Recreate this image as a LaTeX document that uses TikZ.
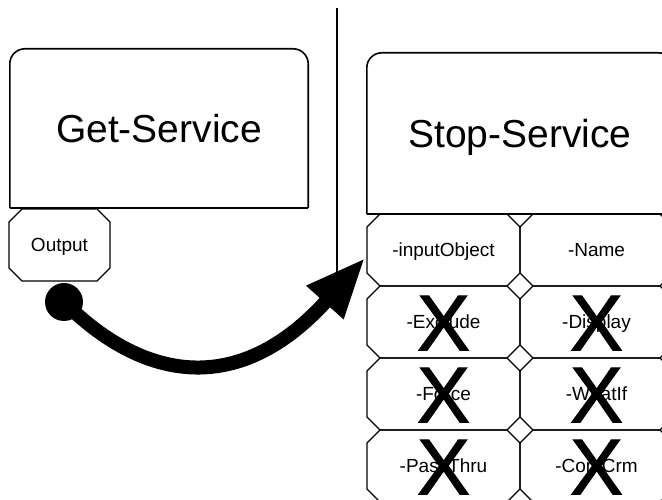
\documentclass[tikz,border=0pt]{standalone}
\usepackage{fontspec}
\setmainfont{Liberation Sans}
\newfontfamily\crossfont[FakeBold=1.6]{Liberation Sans}
\usetikzlibrary{arrows.meta}
\newcommand{\octcell}[6]{%
  \draw[cellline] (#2+13,#3) -- (#4-13,#3) -- (#4,#3+13) -- (#4,#5-13) -- (#4-13,#5) -- (#2+13,#5) -- (#2,#5-13) -- (#2,#3+13) -- cycle;
  \node[celltext] (#1) at ({(#2+#4)/2},{(#3+#5)/2}) {#6};
}
\begin{document}
\begin{tikzpicture}[x=1pt,y=-1pt,
  boxline/.style={line width=1.6pt},
  cellline/.style={line width=1.2pt, line join=miter},
  title/.style={font=\fontsize{39}{39}\selectfont, inner sep=0pt, text height=28pt, text depth=0pt},
  celltext/.style={font=\fontsize{19}{19}\selectfont, inner sep=0pt, text height=13.7pt, text depth=0pt},
  cross/.style={font=\fontsize{79}{79}\crossfont, inner sep=0pt, text height=56.5pt, text depth=0pt},
  flow/.style={line width=14pt, -{Triangle[length=60pt,width=46pt]}}]
\useasboundingbox (0,0) rectangle (662,500);

% Get-Service
\node[title, minimum width=298pt, minimum height=159pt] (getsvc) at (159,128.5) {Get-Service};
\draw[boxline, rounded corners=15pt] (getsvc.south west) -- (getsvc.north west) -- (getsvc.north east) -- (getsvc.south east);
\draw[boxline] (getsvc.south west) -- (getsvc.south east);

\octcell{output}{9}{209}{110}{281}{Output}

% separator
\draw[boxline] (337,8) -- (337,284);

% Stop-Service
\node[title, minimum width=306pt, minimum height=161pt] (stopsvc) at (520,133.5) {Stop-Service};
\draw[boxline, rounded corners=15pt] (stopsvc.south west) -- (stopsvc.north west) -- (stopsvc.north east) -- (stopsvc.south east);
\draw[boxline] (stopsvc.south west) -- (stopsvc.south east);

% parameter cells
\octcell{inputobject}{367}{214}{520}{286}{-inputObject}
\octcell{name}{520}{214}{673}{286}{-Name}
\octcell{exclude}{367}{286}{520}{358}{-Exclude}
\octcell{display}{520}{286}{673}{358}{-Display}
\octcell{force}{367}{358}{520}{430}{-Force}
\octcell{whatif}{520}{358}{673}{430}{-WhatIf}
\octcell{passthru}{367}{430}{520}{502}{-PassThru}
\octcell{confirm}{520}{430}{673}{502}{-ConfCrm}

% crosses
\node[cross] (x1) at (exclude.center) {X};
\node[cross] (x2) at (display.center) {X};
\node[cross] (x3) at (force.center) {X};
\node[cross] (x4) at (whatif.center) {X};
\node[cross] (x5) at (passthru.center) {X};
\node[cross] (x6) at (confirm.center) {X};

% pipeline arrow
\node[circle, fill=black, minimum size=38pt, inner sep=0pt] (dot) at (64,302) {};
\coordinate (tip) at (365,258);
\draw[flow] (dot.center) .. controls (142,380) and (238,399) .. (tip);
\end{tikzpicture}
\end{document}
